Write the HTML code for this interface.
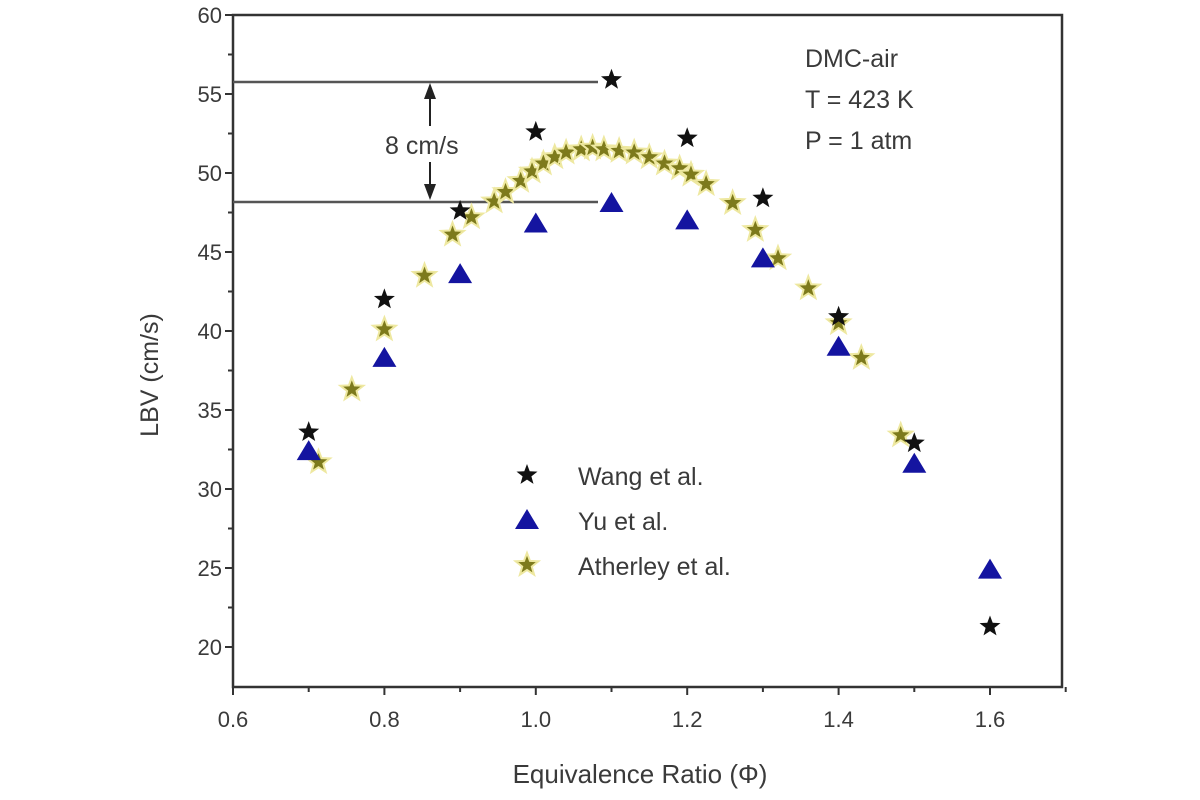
<!DOCTYPE html>
<html><head><meta charset="utf-8"><style>
html,body{margin:0;padding:0;background:#fff;}
svg{display:block}
text{font-family:"Liberation Sans",sans-serif;fill:#3a3a3a;}
</style></head><body>
<svg id="s" width="1200" height="800" viewBox="0 0 1200 800" xmlns="http://www.w3.org/2000/svg">
<rect width="1200" height="800" fill="#fff"/>
<g stroke="#333" stroke-width="2.5" fill="none">
<rect x="233" y="15" width="829" height="672"/>
<line x1="233" y1="82" x2="598" y2="82" stroke="#555"/>
<line x1="233" y1="202" x2="598" y2="202" stroke="#555"/>
<line x1="430" y1="90" x2="430" y2="195" stroke="#222" stroke-width="2"/>
</g>
<polygon points="430,83 424,99 436,99" fill="#222"/>
<polygon points="430,200 424,184 436,184" fill="#222"/>
<rect x="380" y="126" width="110" height="36" fill="#fff"/>
<text x="385" y="154" font-size="25">8 cm/s</text>
<g id="ticks" stroke="#333" stroke-width="2"></g>
<g id="lab" font-size="22"></g>
<text x="133" y="350" font-size="25" transform="rotate(-90 158 350)" text-anchor="middle">LBV (cm/s)</text>
<text x="640" y="783" font-size="26" text-anchor="middle">Equivalence Ratio (Φ)</text>
<text x="805" y="67" font-size="25">DMC-air</text>
<text x="805" y="108" font-size="25">T = 423 K</text>
<text x="805" y="149" font-size="25">P = 1 atm</text>
<text x="578" y="485" font-size="25">Wang et al.</text>
<text x="578" y="530" font-size="25">Yu et al.</text>
<text x="578" y="575" font-size="25">Atherley et al.</text>
<g id="pts"></g>
</svg>
<script>
var ns="http://www.w3.org/2000/svg";
function X(p){return 233+(p-0.6)*757;}
function Y(v){return 647-(v-20)*15.8;}
function el(t,a,par){var e=document.createElementNS(ns,t);for(var k in a)e.setAttribute(k,a[k]);document.getElementById(par).appendChild(e);return e;}
function star(cx,cy,r,fill,glow){var p=[];for(var i=0;i<10;i++){var rr=i%2?r*0.42:r;var a=-Math.PI/2+i*Math.PI/5;p.push((cx+rr*Math.cos(a)).toFixed(1)+","+(cy+rr*Math.sin(a)).toFixed(1));}
 var o={points:p.join(" "),fill:fill};if(glow){o.stroke="#eee8a0";o["stroke-width"]=2;}el("polygon",o,"pts");}
function tri(cx,cy,fill){el("polygon",{points:cx+","+(cy-11)+" "+(cx-12)+","+(cy+9)+" "+(cx+12)+","+(cy+9),fill:fill},"pts");}
for(var v=20;v<=60;v+=2.5){var y=Y(v),big=(v%5==0);el("line",{x1:233-(big?8:5),y1:y,x2:233,y2:y},"ticks");}
for(var v=20;v<=60;v+=5){var t=el("text",{x:222,y:Y(v)+8,"text-anchor":"end"},"lab");t.textContent=v;}
for(var p=0.6;p<=1.71;p+=0.1){var x=X(p),big=Math.round(p*10)%2==0;el("line",{x1:x,y1:687,x2:x,y2:687+(big?8:5)},"ticks");
 if(big&&p<1.65){var t=el("text",{x:x,y:727,"text-anchor":"middle"},"lab");t.textContent=p.toFixed(1);}}
var ath=[[0.713,31.7],[0.757,36.3],[0.8,40.1],[0.853,43.5],[0.89,46.1],[0.915,47.2],[0.945,48.2],[0.96,48.8],[0.98,49.5],[0.995,50.1],[1.01,50.6],[1.025,51],[1.04,51.3],[1.06,51.5],[1.075,51.6],[1.09,51.5],[1.11,51.4],[1.13,51.3],[1.15,51.0],[1.17,50.6],[1.19,50.3],[1.205,49.9],[1.225,49.3],[1.26,48.1],[1.29,46.4],[1.32,44.6],[1.36,42.7],[1.40,40.5],[1.43,38.3],[1.482,33.4]];
ath.forEach(function(d){star(X(d[0]),Y(d[1]),12,"#7d7a1c",true);});
var yu=[[0.7,32.4],[0.8,38.3],[0.9,43.6],[1.0,46.8],[1.1,48.1],[1.2,47],[1.3,44.6],[1.4,39],[1.5,31.6],[1.6,24.9]];
yu.forEach(function(d){tri(X(d[0]),Y(d[1]),"#1414a0");});
var wang=[[0.7,33.6],[0.8,42],[0.9,47.6],[1.0,52.6],[1.1,55.9],[1.2,52.2],[1.3,48.4],[1.4,40.9],[1.5,32.9],[1.6,21.3]];
wang.forEach(function(d){star(X(d[0]),Y(d[1]),11,"#111",false);});
star(527,475,11,"#111",false);tri(527,520,"#1414a0");star(527,565,12,"#7d7a1c",true);
</script>
</body></html>
